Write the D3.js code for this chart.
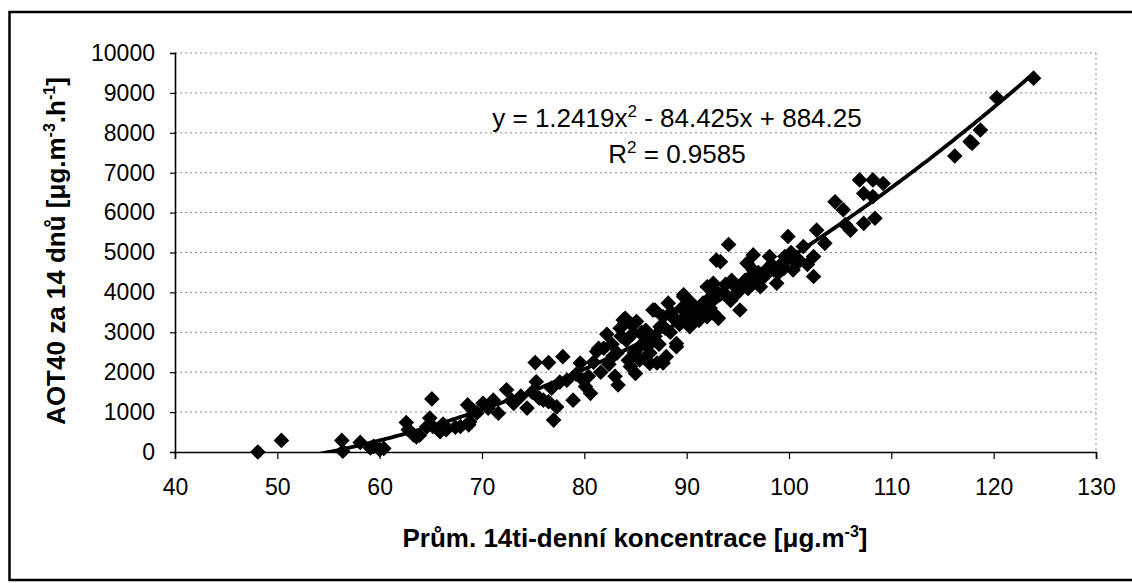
<!DOCTYPE html>
<html>
<head>
<meta charset="utf-8">
<title>AOT40 vs. koncentrace</title>
<script src="https://d3js.org/d3.v7.min.js"></script>
<style>
    body { margin: 0; background: white; }
    svg text { font-family: "Liberation Sans", Arial, sans-serif; fill: black; }
    .grid line { stroke: #8a8a8a; stroke-dasharray: 2,3; }
</style>
</head>
<body>
<svg width="1132" height="583"></svg>
<script>
// mean 14-day concentration [ug.m-3]
var konc = [48.1, 50.4, 56.3, 56.4, 58.1, 59.1, 59.4, 60.0, 60.4, 62.6, 62.8, 63.3, 63.6, 63.9, 64.6, 64.9,
    65.1, 65.2, 65.9, 66.2, 66.5, 67.4, 67.9, 68.6, 68.7, 68.8, 69.1, 69.5, 70.1, 70.6, 71.1, 71.6,
    72.4, 72.9, 73.1, 73.8, 74.4, 74.9, 75.2, 75.3, 75.6, 76.0, 76.5, 76.5, 76.8, 77.0, 77.3, 77.6,
    77.9, 78.3, 78.9, 79.2, 79.6, 80.1, 80.4, 80.6, 81.2, 81.4, 81.6, 82.2, 82.4, 82.7, 83.0, 83.2,
    83.3, 83.5, 83.8, 84.0, 84.1, 84.3, 84.5, 84.8, 85.0, 85.1, 85.4, 85.4, 85.8, 86.0, 86.4, 86.4,
    86.4, 86.7, 86.9, 87.1, 87.4, 87.7, 87.7, 88.0, 88.2, 88.4, 88.7, 89.0, 89.0, 89.3, 89.7, 89.7,
    90.0, 90.3, 90.6, 90.9, 91.2, 91.6, 92.0, 92.0, 92.3, 92.6, 92.6, 92.6, 92.9, 93.1, 93.3, 93.6,
    94.1, 94.3, 94.6, 94.9, 95.2, 95.5, 95.9, 96.2, 96.5, 96.5, 96.8, 97.2, 97.6, 98.1, 98.5, 98.8,
    99.2, 99.5, 99.8, 99.9, 100.2, 100.4, 100.8, 101.4, 101.8, 102.4, 102.4, 102.7, 103.5, 104.5, 105.3, 105.5,
    106.0, 106.9, 107.3, 107.3, 108.2, 108.2, 108.4, 109.2, 116.2, 117.7, 117.9, 118.7, 120.3, 123.9,
    79.9, 80.9, 81.9, 82.8, 83.6, 84.6, 84.9, 85.6, 85.9, 86.2, 86.9, 87.3, 87.9, 88.5, 88.9, 89.5,
    89.9, 90.4, 90.8, 91.4, 91.9, 92.4, 93.0, 93.8, 94.4, 95.0, 95.7, 96.0, 97.0, 97.9, 98.3, 99.0,
    99.6, 100.6, 101.0];
// AOT40 for 14 days [ug.m-3.h-1]
var aot = [0, 290, 290, 20, 240, 100, 140, 60, 90, 740, 560, 430, 380, 420, 630, 850,
    1330, 640, 510, 700, 560, 620, 640, 1180, 680, 760, 1050, 980, 1220, 1100, 1300, 970,
    1560, 1300, 1220, 1400, 1100, 1500, 2240, 1760, 1350, 1300, 2240, 1260, 1600, 800, 1130, 1750,
    2390, 1800, 1300, 1950, 2230, 1640, 1900, 1470, 2520, 2600, 2000, 2950, 2200, 2700, 1900, 2480,
    1680, 3100, 3310, 3350, 2800, 2300, 2140, 2980, 1970, 3270, 2310, 2640, 2900, 3050, 2480, 2220,
    2810, 3560, 3560, 2230, 3140, 3390, 2230, 2390, 3730, 3000, 3390, 2640, 2720, 3200, 3890, 3940,
    3560, 3140, 3640, 3450, 3300, 3730, 3390, 4140, 3600, 4230, 3810, 3480, 4810, 3350, 4770, 4000,
    5200, 3800, 4230, 4100, 3560, 4140, 4730, 4390, 4940, 4560, 4250, 4140, 4400, 4900, 4560, 4230,
    4700, 4600, 4810, 5400, 5000, 4560, 4730, 5150, 4700, 4900, 4400, 5560, 5230, 6270, 6070, 5700,
    5560, 6820, 6480, 5730, 6820, 6400, 5860, 6730, 7420, 7780, 7740, 8070, 8880, 9370,
    1800, 2250, 2600, 2400, 2900, 3200, 2500, 3000, 2350, 2650, 2900, 2700, 3100, 3500, 3300, 3600,
    3400, 3750, 3300, 3500, 3700, 3900, 4000, 4200, 4300, 4000, 4300, 4100, 4500, 4600, 4700, 4500,
    4900, 4900, 4800];

// polynomial trend (as printed on the chart): a*x^2 + b*x + c
var trendCoef = [1.2419, -84.425, 884.25];
var xTicks = [40, 50, 60, 70, 80, 90, 100, 110, 120, 130];
var yTicks = [0, 1000, 2000, 3000, 4000, 5000, 6000, 7000, 8000, 9000, 10000];

var svg = d3.select("svg");
var pLeft = 175, pRight = 1096, pTop = 53, pBottom = 452;

var xs = d3.scaleLinear().domain([40, 130]).range([pLeft, pRight]);
var ys = d3.scaleLinear().domain([0, 10000]).range([pBottom, pTop]);

// outer frame
svg.append("rect")
    .attr("x", 9.5).attr("y", 12)
    .attr("width", 1125).attr("height", 568)
    .attr("fill", "none").attr("stroke", "black").attr("stroke-width", 2.5);

// gridlines
svg.append("g").attr("class", "grid")
    .selectAll("line")
    .data(yTicks.filter(function(d){ return d > 0; }))
    .enter().append("line")
        .attr("x1", pLeft).attr("x2", pRight)
        .attr("y1", function(d){ return ys(d); })
        .attr("y2", function(d){ return ys(d); });
svg.append("g").attr("class", "grid")
    .append("line")
        .attr("x1", pRight).attr("x2", pRight)
        .attr("y1", pTop).attr("y2", pBottom);

// axes
var yAxis = svg.append("g")
    .attr("transform", "translate(" + pLeft + ",0)")
    .call(d3.axisLeft(ys).tickValues(yTicks).tickSize(5).tickPadding(15).tickFormat(d3.format("d")));
var xAxis = svg.append("g")
    .attr("transform", "translate(0," + pBottom + ")")
    .call(d3.axisBottom(xs).tickValues(xTicks).tickSize(7).tickPadding(20).tickFormat(d3.format("d")));
[yAxis, xAxis].forEach(function(a){
    a.select(".domain").attr("stroke", "black").attr("stroke-width", 1.6);
    a.selectAll(".tick line").attr("stroke", "black").attr("stroke-width", 1.2);
    a.selectAll("text").style("font-size", "23px")
        .style("font-family", "'Liberation Sans', Arial, sans-serif").attr("fill", "black");
});

// clip for trendline
svg.append("clipPath").attr("id", "plotclip")
  .append("rect").attr("x", pLeft).attr("y", pTop)
    .attr("width", pRight - pLeft).attr("height", pBottom - pTop);

// trendline
var xmin = d3.min(konc), xmax = d3.max(konc);
var trend = d3.range(xmin, xmax + 0.01, 0.25).map(function(x){
    return [x, trendCoef[0] * x * x + trendCoef[1] * x + trendCoef[2]];
});

// points
svg.append("g")
    .selectAll("path")
    .data(d3.zip(konc, aot))
    .enter().append("path")
        .attr("d", d3.symbol(d3.symbolSquare, 122))
        .attr("transform", function(d){ return "translate(" + xs(d[0]) + "," + ys(d[1]) + ") rotate(45)"; })
        .attr("fill", "black");

svg.append("path")
    .datum(trend)
    .attr("clip-path", "url(#plotclip)")
    .attr("fill", "none")
    .attr("stroke", "black")
    .attr("stroke-width", 3.8)
    .attr("d", d3.line()
        .x(function(d){ return xs(d[0]); })
        .y(function(d){ return ys(d[1]); }));

// equation
var eq = svg.append("text")
    .attr("x", 677).attr("y", 127)
    .attr("text-anchor", "middle")
    .style("font-size", "26px");
eq.append("tspan").text("y = 1.2419x");
eq.append("tspan").attr("dy", -10).style("font-size", "17px").text("2");
eq.append("tspan").attr("dy", 10).text(" - 84.425x + 884.25");

var r2 = svg.append("text")
    .attr("x", 677).attr("y", 163)
    .attr("text-anchor", "middle")
    .style("font-size", "26px");
r2.append("tspan").text("R");
r2.append("tspan").attr("dy", -10).style("font-size", "17px").text("2");
r2.append("tspan").attr("dy", 10).text(" = 0.9585");

// axis titles
var xt = svg.append("text")
    .attr("x", 635).attr("y", 547)
    .attr("text-anchor", "middle")
    .style("font-size", "26px").style("font-weight", "bold");
xt.append("tspan").text("Prům. 14ti-denní koncentrace [μg.m");
xt.append("tspan").attr("dy", -10).style("font-size", "16px").text("-3");
xt.append("tspan").attr("dy", 10).text("]");

var yt = svg.append("text")
    .attr("transform", "translate(65,251) rotate(-90)")
    .attr("text-anchor", "middle")
    .style("font-size", "26px").style("font-weight", "bold");
yt.append("tspan").text("AOT40 za 14 dnů [μg.m");
yt.append("tspan").attr("dy", -10).style("font-size", "16px").text("-3");
yt.append("tspan").attr("dy", 10).text(".h");
yt.append("tspan").attr("dy", -10).style("font-size", "16px").text("-1");
yt.append("tspan").attr("dy", 10).text("]");
</script>
</body>
</html>
